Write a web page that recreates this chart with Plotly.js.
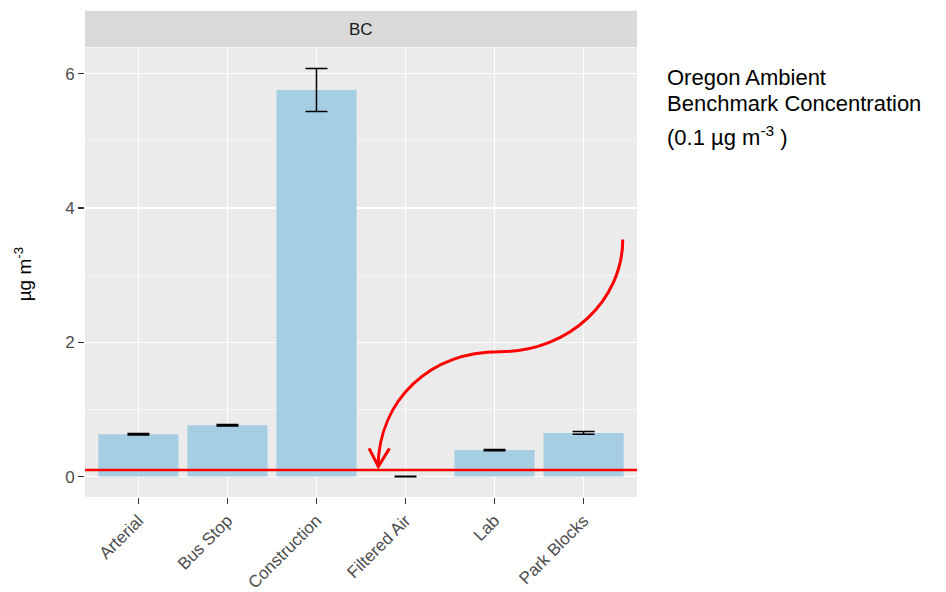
<!DOCTYPE html>
<html>
<head>
<meta charset="utf-8">
<script src="https://cdn.plot.ly/plotly-3.0.1.min.js"></script>
<style>html,body{margin:0;padding:0;background:#fff;}#chart{width:946px;height:592px;}</style>
</head>
<body>
<div id="chart"></div>
<script>
// ---- data ----
const categories = ["Arterial", "Bus Stop", "Construction", "Filtered Air", "Lab", "Park Blocks"];
const meanValues = [0.63, 0.765, 5.76, 0.0, 0.395, 0.65];
const errorValues = [0.01, 0.01, 0.32, 0.004, 0.01, 0.02];
const panelLabel = "BC";
const benchmarkValue = 0.1;
const yTickValues = [0, 2, 4, 6];
const noteLines = ["Oregon Ambient", "Benchmark Concentration", "(0.1 µg m<sup>-3</sup> )"];
// arrow annotation waypoints in data units (category index, value)
const arrowX = [5.44, 5.44, 4.85, 4.06, 3.27, 2.71, 2.69];
const arrowY = [3.53, 2.64, 1.86, 1.86, 1.86, 1.15, 0.15];
const arrowHeadX = [2.59, 2.695, 2.82];
const arrowHeadY = [0.42, 0.15, 0.42];

const xRange = [-0.6, 5.6];
const yRange = [-0.304, 6.384];
const px = v => (v - xRange[0]) / (xRange[1] - xRange[0]);
const py = v => (v - yRange[0]) / (yRange[1] - yRange[0]);

let arrowPath = `M ${px(arrowX[0])},${py(arrowY[0])} C ${px(arrowX[1])},${py(arrowY[1])} ${px(arrowX[2])},${py(arrowY[2])} ${px(arrowX[3])},${py(arrowY[3])} C ${px(arrowX[4])},${py(arrowY[4])} ${px(arrowX[5])},${py(arrowY[5])} ${px(arrowX[6])},${py(arrowY[6])}`;
let headPath = `M ${px(arrowHeadX[0])},${py(arrowHeadY[0])} L ${px(arrowHeadX[1])},${py(arrowHeadY[1])} L ${px(arrowHeadX[2])},${py(arrowHeadY[2])}`;

const FONT = "Liberation Sans, Arial, sans-serif";

const trace = {
  type: "bar",
  x: categories,
  y: meanValues,
  width: 0.9,
  marker: {color: "#a6cee3", line: {width: 0}},
  error_y: {type: "data", array: errorValues, visible: true, color: "#000000", thickness: 1.5, width: 11},
  hoverinfo: "x+y"
};

const noteY = [0.9332, 0.8753, 0.8030];

const layout = {
  width: 946, height: 592,
  margin: {l: 85, r: 309, t: 48, b: 95},
  paper_bgcolor: "#ffffff",
  plot_bgcolor: "#ebebeb",
  showlegend: false,
  font: {family: FONT},
  xaxis: {
    type: "category",
    range: xRange,
    showgrid: true, gridcolor: "#ffffff", gridwidth: 1.2,
    zeroline: false, showline: false,
    ticks: "outside", ticklen: 6, tickwidth: 1.2, tickcolor: "#333333",
    tickangle: -45,
    tickfont: {family: FONT, size: 17, color: "#4d4d4d"},
    fixedrange: true
  },
  yaxis: {
    range: yRange,
    tickvals: yTickValues,
    showgrid: true, gridcolor: "#ffffff", gridwidth: 1.2,
    minor: {dtick: 1, tick0: 0, showgrid: true, gridcolor: "#ffffff", gridwidth: 0.6, ticks: ""},
    zeroline: false, showline: false,
    ticks: "outside", ticklen: 6, tickwidth: 1.2, tickcolor: "#333333",
    tickfont: {family: FONT, size: 17, color: "#4d4d4d"},
    fixedrange: true
  },
  shapes: [
    {type: "rect", xref: "paper", yref: "paper", x0: 0, x1: 1, y0: 1.0015, y1: 1.083, fillcolor: "#d9d9d9", line: {width: 0}, layer: "below"},
    {type: "line", xref: "paper", yref: "y", x0: 0, x1: 1, y0: benchmarkValue, y1: benchmarkValue, line: {color: "#ff0000", width: 2.5}},
    {type: "path", xref: "paper", yref: "paper", path: arrowPath, line: {color: "#ff0000", width: 3}},
    {type: "path", xref: "paper", yref: "paper", path: headPath, line: {color: "#ff0000", width: 3}}
  ],
  annotations: [
    {xref: "paper", yref: "paper", x: 0.5, y: 1.042, text: panelLabel, showarrow: false, xanchor: "center", yanchor: "middle", font: {family: FONT, size: 17, color: "#1a1a1a"}},
    {xref: "paper", yref: "paper", x: -0.113, y: 0.495, text: "µg m<sup>-3</sup>", textangle: -90, showarrow: false, xanchor: "center", yanchor: "middle", font: {family: FONT, size: 19, color: "#000000"}}
  ].concat(noteLines.map((t, i) => ({
    xref: "paper", yref: "paper", x: 1.05, y: noteY[i], text: t, showarrow: false,
    xanchor: "left", yanchor: "middle", align: "left",
    font: {family: FONT, size: 22, color: "#000000"}
  })))
};

Plotly.newPlot("chart", [trace], layout, {displayModeBar: false, staticPlot: true});
</script>
</body>
</html>
